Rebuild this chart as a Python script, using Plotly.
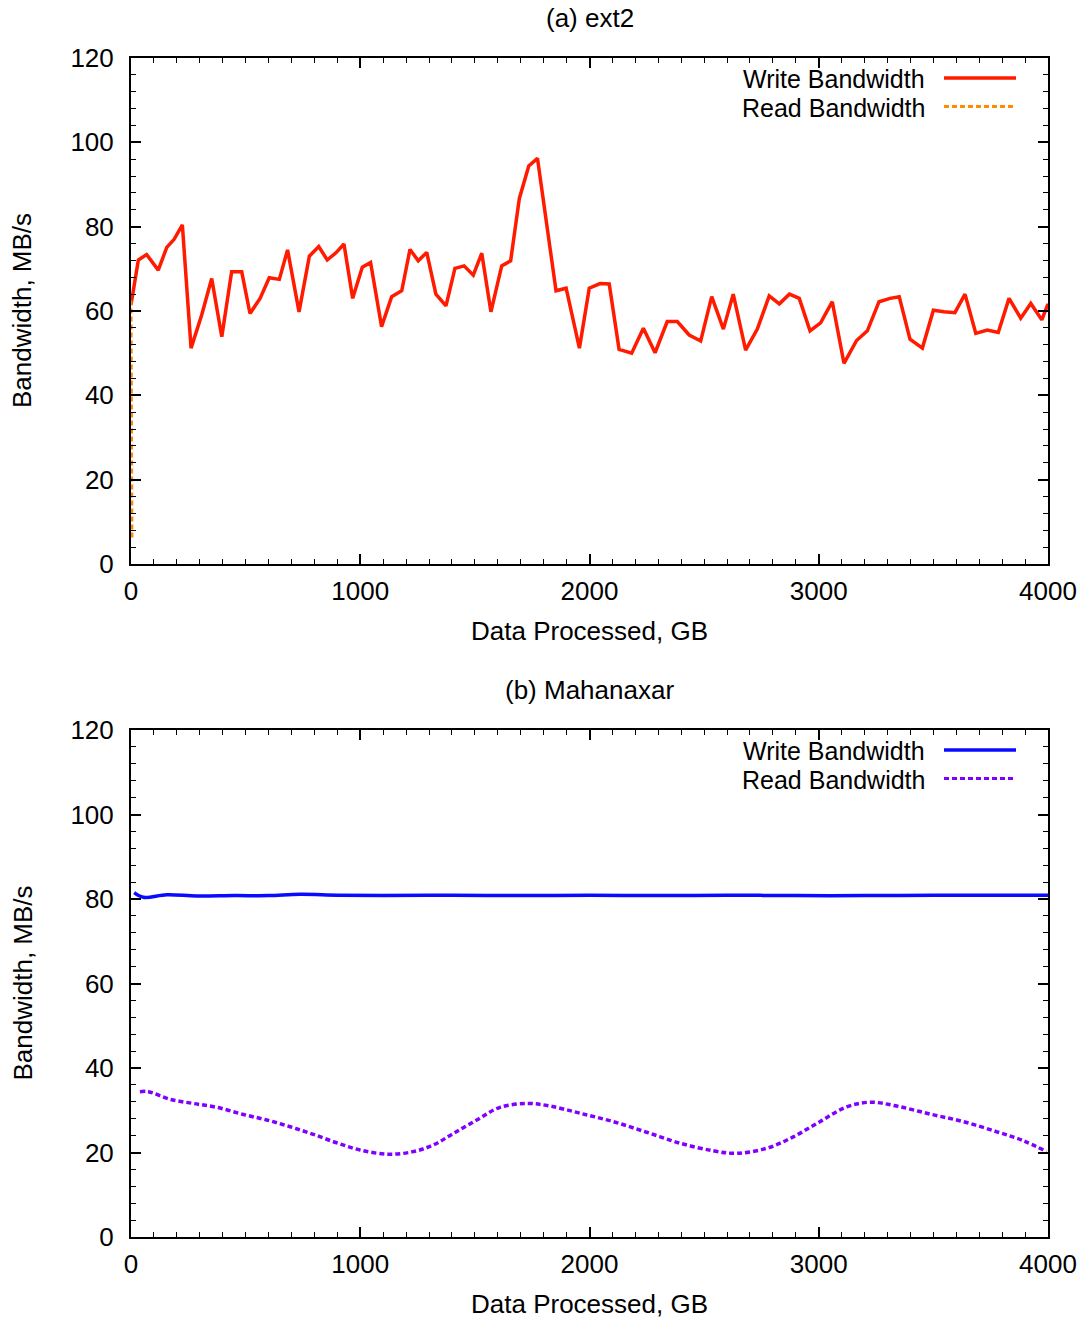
import plotly.graph_objects as go

# ---- (a) ext2 ----
ext2_write_gb = [0, 32, 68, 119, 156, 188, 224, 262, 308, 352, 396, 439, 483, 519, 563, 603,
                 647, 683, 733, 778, 819, 856, 894, 929, 967, 1009, 1045, 1093, 1137, 1181,
                 1217, 1253, 1290, 1330, 1374, 1413, 1453, 1493, 1530, 1570, 1617, 1656, 1694,
                 1735, 1773, 1854, 1898, 1956, 1999, 2046, 2086, 2129, 2184, 2235, 2286, 2339,
                 2383, 2435, 2485, 2533, 2584, 2627, 2681, 2732, 2784, 2828, 2872, 2915, 2962,
                 3008, 3059, 3110, 3165, 3212, 3263, 3311, 3351, 3398, 3452, 3500, 3546, 3594,
                 3638, 3685, 3735, 3783, 3830, 3881, 3925, 3973, 4000]
ext2_write_bw = [61.5, 72.1, 73.4, 69.7, 75.1, 77.0, 80.4, 51.2, 59.0, 67.7, 53.9, 69.3, 69.3,
                 59.4, 63.0, 67.9, 67.5, 74.5, 59.8, 73.0, 75.3, 72.1, 73.8, 75.9, 63.0, 70.4,
                 71.5, 56.3, 63.4, 64.8, 74.6, 71.9, 73.9, 64.0, 61.2, 70.1, 70.7, 68.5, 73.7,
                 59.8, 70.7, 71.9, 86.7, 94.4, 96.2, 64.8, 65.4, 51.2, 65.4, 66.5, 66.4, 50.9,
                 50.0, 55.9, 50.1, 57.5, 57.5, 54.3, 52.9, 63.4, 55.7, 64.0, 50.7, 55.7, 63.6,
                 61.7, 64.0, 63.0, 55.3, 57.2, 62.2, 47.6, 53.0, 55.3, 62.2, 63.0, 63.4, 53.3,
                 51.2, 60.2, 59.8, 59.6, 64.0, 54.7, 55.5, 54.9, 63.0, 58.3, 61.8, 57.9, 61.7]
ext2_read_gb = [0, 4]
ext2_read_bw = [62.5, 6.0]

# ---- (b) Mahanaxar ----
mah_write_gb = [14, 54, 156, 287, 450, 600, 737, 900, 1100, 1400, 1700, 2000, 2300, 2600,
                2900, 3200, 3500, 3800, 4000]
mah_write_bw = [81.5, 80.4, 81.0, 80.7, 80.8, 80.8, 81.1, 80.9, 80.8, 80.9, 80.8, 80.9, 80.8,
                80.9, 80.8, 80.8, 80.9, 80.9, 80.9]
mah_read_gb = [39, 76, 170, 272, 374, 490, 592, 694, 795, 897, 999, 1122, 1231, 1319, 1406,
               1508, 1610, 1733, 1828, 1958, 2104, 2249, 2395, 2540, 2642, 2773, 2889, 3005,
               3122, 3223, 3340, 3485, 3631, 3777, 3892, 3994]
mah_read_bw = [34.4, 34.4, 32.6, 31.6, 30.7, 29.0, 27.7, 26.1, 24.3, 22.3, 20.6, 19.6, 20.2,
               21.8, 24.5, 27.7, 30.7, 31.6, 31.0, 29.3, 27.3, 24.8, 22.2, 20.4, 19.8, 21.0,
               23.7, 27.3, 30.8, 31.9, 31.0, 29.1, 27.3, 24.9, 22.8, 20.2]

x_ticks = [0, 1000, 2000, 3000, 4000]
y_ticks = [0, 20, 40, 60, 80, 100, 120]

panel_titles = ["(a) ext2", "(b) Mahanaxar"]
x_title = "Data Processed, GB"
y_title = "Bandwidth, MB/s"
legend_names = ["Write Bandwidth", "Read Bandwidth"]

RED = "#ff1a00"
ORANGE = "#ff8c00"
BLUE = "#0a0aff"
VIOLET = "#8000ff"

W, H = 1088, 1321
FONT = "Liberation Sans, Arial, sans-serif"
FS = 26
KEY_FS = 25

# plot areas in pixel terms, converted to paper fractions
px_left, px_right = 131, 1048
panels = [(58, 564), (730, 1237)]

def fx(px):
    return px / W

def fy(py):
    return 1 - py / H

fig = go.Figure()

fig.add_trace(go.Scatter(x=ext2_write_gb, y=ext2_write_bw, mode="lines",
                         line=dict(color=RED, width=3.5), xaxis="x", yaxis="y",
                         name=legend_names[0], showlegend=False))
fig.add_trace(go.Scatter(x=ext2_read_gb, y=ext2_read_bw, mode="lines",
                         line=dict(color=ORANGE, width=3, dash="5px,3px"), xaxis="x", yaxis="y",
                         name=legend_names[1], showlegend=False))
fig.add_trace(go.Scatter(x=mah_write_gb, y=mah_write_bw, mode="lines",
                         line=dict(color=BLUE, width=3.5, shape="spline"), xaxis="x2", yaxis="y2",
                         name=legend_names[0], showlegend=False))
fig.add_trace(go.Scatter(x=mah_read_gb, y=mah_read_bw, mode="lines",
                         line=dict(color=VIOLET, width=3.5, dash="5px,3px", shape="spline"),
                         xaxis="x2", yaxis="y2", name=legend_names[1], showlegend=False))

axis_common = dict(showgrid=False, zeroline=False, showline=True, linecolor="black",
                   linewidth=2, mirror="allticks", ticks="inside", tickcolor="black",
                   tickwidth=1.5, ticklen=10, automargin=False,
                   tickfont=dict(family=FONT, size=FS, color="black"))

xd = [fx(px_left), fx(px_right)]
layout = dict(width=W, height=H, margin=dict(l=0, r=0, t=0, b=0),
              plot_bgcolor="white", paper_bgcolor="white", showlegend=False)

for i, (top, bot) in enumerate(panels):
    sfx = "" if i == 0 else str(i + 1)
    layout["xaxis" + sfx] = dict(axis_common, domain=xd, range=[0, 4000], tickvals=x_ticks,
                                 ticktext=[str(v) for v in x_ticks], anchor="y" + sfx,
                                 ticklabelstandoff=3,
                                 minor=dict(ticks="inside", dtick=100, ticklen=5,
                                            tickcolor="black", tickwidth=1.2))
    layout["yaxis" + sfx] = dict(axis_common, domain=[fy(bot), fy(top)], range=[0, 120],
                                 tickvals=y_ticks, ticktext=[str(v) for v in y_ticks],
                                 anchor="x" + sfx, ticklabelstandoff=10,
                                 minor=dict(ticks="inside", dtick=4, ticklen=5,
                                            tickcolor="black", tickwidth=1.2))

fig.update_layout(**layout)

annotations = []
shapes = []
legend_colors = [(RED, ORANGE), (BLUE, VIOLET)]
txt_font = dict(family=FONT, size=FS, color="black")
key_font = dict(family=FONT, size=KEY_FS, color="black")
for i, (top, bot) in enumerate(panels):
    cx = fx((px_left + px_right) / 2)
    # panel title
    annotations.append(dict(text=panel_titles[i], x=cx, y=fy(top - 40), xref="paper",
                            yref="paper", xanchor="center", yanchor="middle",
                            showarrow=False, font=txt_font))
    # x axis title
    annotations.append(dict(text=x_title, x=cx, y=fy(bot + 67), xref="paper", yref="paper",
                            xanchor="center", yanchor="middle", showarrow=False,
                            font=txt_font))
    # y axis title
    annotations.append(dict(text=y_title, x=fx(22), y=fy((top + bot) / 2), textangle=-90,
                            xref="paper", yref="paper", xanchor="center", yanchor="middle",
                            showarrow=False, font=txt_font))
    # key: label, then line sample
    for j, name in enumerate(legend_names):
        yy = top + 21 + 28.5 * j
        annotations.append(dict(text=name, x=fx(927), y=fy(yy), xref="paper", yref="paper",
                                xanchor="right", yanchor="middle", showarrow=False,
                                font=key_font))
        shapes.append(dict(type="line", xref="paper", yref="paper",
                           x0=fx(944), x1=fx(1016), y0=fy(yy - 1), y1=fy(yy - 1),
                           line=dict(color=legend_colors[i][j], width=3.5 if j == 0 else 3,
                                     dash="solid" if j == 0 else "5px,3px")))

fig.update_layout(annotations=annotations, shapes=shapes)
fig.write_html("out.html")
